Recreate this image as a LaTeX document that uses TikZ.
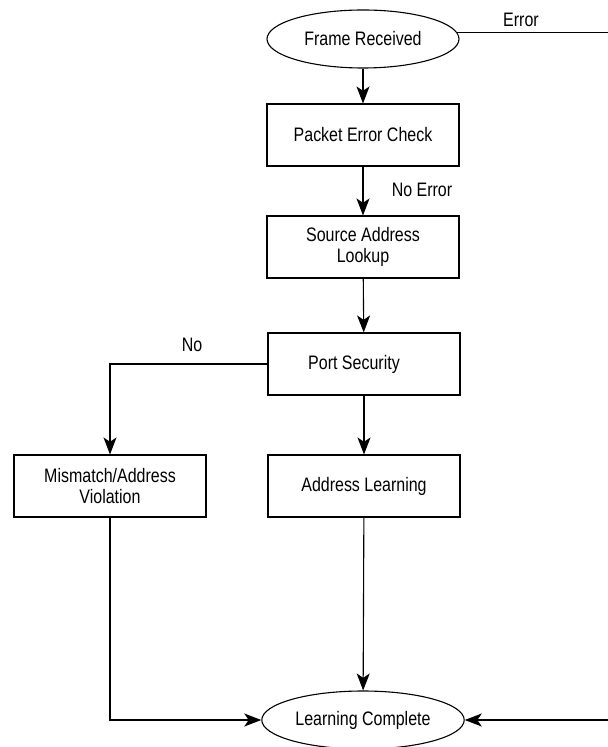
\documentclass[tikz,border=0pt]{standalone}
\usepackage{fontspec}
\setmainfont[FakeStretch=0.82]{Liberation Sans}
\usetikzlibrary{arrows.meta, positioning, shapes.geometric}
\definecolor{ink}{HTML}{000000}
\tikzset{
  font=\fontsize{9.75}{10.5}\selectfont,
  >={Stealth[length=8.5pt, width=6.5pt, inset=2.2pt]},
  %
  box/.style={
    draw=ink, line width=0.55pt, fill=white, align=center, text=ink,
    minimum width=96pt, minimum height=31pt, inner sep=2pt,
  },
  term/.style={box, ellipse, minimum height=29pt},
  %
  flow/.style={draw=ink, line width=0.55pt, ->},
  wire/.style={draw=ink, line width=0.55pt},
  %
  lbl/.style={text=ink, inner sep=1pt},
}

\begin{document}
\begin{tikzpicture}[x=0.5pt, y=-0.5pt]
\useasboundingbox (0,0) rectangle (608,747);

% ------------------------------------------------------------ main column
\node[term] (fr)  at (363,39)  {Frame Received};
\node[box]  (pec) at (363,135) {Packet Error Check};
\node[box]  (sal) at (363,247) {Source Address\\Lookup};
\node[box]  (ps)  at (364,364) {Port Security\hspace*{10pt}};
\node[box]  (al)  at (364,486) {Address Learning};
\node[box]  (mav) at (110,486) {Mismatch/Address\\Violation};
\node[term] (lc)  at (363,720) {Learning Complete};

% ------------------------------------------------------------ error branch
\coordinate (errout) at (608,33);
\coordinate (errin)  at (608,720);

\draw[flow] (fr) -- (pec);
\draw[flow] (pec) -- (sal);
\draw[flow] (sal) -- (ps);
\draw[flow] (ps) -- (al);
\draw[flow] (ps.west) -| (mav.north);
\draw[flow] (al) -- (lc);
\draw[flow] (mav.south) |- (lc.west);
\draw[wire] (fr.4) -- (fr.4 -| errout);
\draw[flow] (errin) -- (lc.east);

\node[lbl] (lerr)   at (521,20)  {Error};
\node[lbl] (lnoerr) at (422,190) {No Error};
\node[lbl] (lno)    at (192,345) {No};

\end{tikzpicture}
\end{document}
